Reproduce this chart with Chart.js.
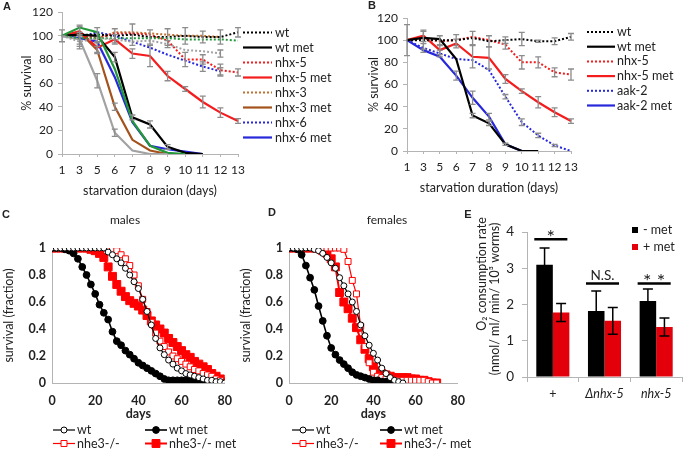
<!DOCTYPE html>
<html>
<head>
<meta charset="utf-8">
<script src="https://cdn.jsdelivr.net/npm/chart.js@4.4.1/dist/chart.umd.min.js"></script>
<style>
  html, body { margin: 0; padding: 0; background: #fff; }
  #wrap { position: relative; width: 683px; height: 450px; overflow: hidden; }
  canvas { position: absolute; }
</style>
</head>
<body>
<div id="wrap">
  <canvas id="chartA" style="left:0;top:0" width="340" height="200"></canvas>
  <canvas id="chartB" style="left:340px;top:0" width="343" height="200"></canvas>
  <canvas id="chartC" style="left:0;top:200px" width="242" height="250"></canvas>
  <canvas id="chartD" style="left:230px;top:200px" width="245" height="250"></canvas>
  <canvas id="chartE" style="left:460px;top:200px" width="223" height="250"></canvas>
</div>
<script>
// ---- panel A / B : starvation survival (%) ----
const starveDays = ['1', '3', '5', '6', '7', '8', '9', '10', '11', '12', '13'];

const aWt        = [100, 101, 101, 100, 101, 99, 99, 100, 99, 99, 103];
const aWtErr     = [5, 8, 6, 6, 9, 6, 7, 7, 5, 6, 4];
const aWtMet     = [100, 101, 100, 82, 31, 25, 6, 1, 0, null, null];
const aWtMetErr  = [null, null, null, 4, 2, 3, 2, null, null, null, null];
const aNhx5      = [100, 101, 98, 102, 102, 101, 96, 80, 80, 71, 69];
const aNhx5Err   = [null, null, null, null, null, null, null, 6, 4, 5, 3];
const aNhx5Met   = [100, 104, 90, 97, 85, 83, 66, 55, 44, 35, 28];
const aNhx5MetErr = [null, 4, 4, 4, 4, 9, 4, 2, 5, 4, 2];
const aNhx3      = [100, 100, 97, 103, 103, 102, 101, 100, 100, 99, null];
const aNhx3Met   = [100, 103, 88, 40, 12, 3, 0, null, null, null, null];
const aNhx3MetErr = [null, null, 3, 3, null, null, null, null, null, null, null];
const aNhx6      = [100, 99, 103, 100, 95, 90, 84, 79, 74, 70, null];
const aNhx6Err   = [null, null, null, null, null, null, null, null, 4, 3, null];
const aNhx6Met   = [100, 98, 95, 65, 27, 7, 4, 2, 0, null, null];
const aGrayDot   = [100, 95, 98, 97, 95, 96, 93, 88, 87, 85, null];
const aGrayDotErr = [null, 6, null, null, null, null, 3, null, null, 3, null];
const aGrayMet   = [100, 97, 62, 18, 3, 0, 0, null, null, null, null];
const aGrayMetErr = [null, 6, 6, 3, null, null, null, null, null, null, null];
const aGreenDot  = [100, 98, 98, 98, 98, 98, 98, 97, 97, 97, 96];
const aGreenMet  = [100, 107, 103, 72, 28, 7, 1, 0, null, null, null];

const bWt        = [100, 100, 100, 100, 102, 99, 100, 101, 99, 99, 103];
const bWtErr     = [14, 8, 4, 5, 6, 5, 3, 6, 1, 3, 3];
const bWtMet     = [100, 102, 101, 83, 32, 25, 6, 0, 0, null, null];
const bWtMetErr  = [null, null, null, null, 2, 2, null, null, null, null, null];
const bNhx5      = [100, 101, 99, 100, 103, 100, 96, 80, 80, 71, 69];
const bNhx5Err   = [null, null, null, null, null, null, 4, 6, 5, 4, 5];
const bNhx5Met   = [100, 104, 91, 97, 85, 84, 65, 54, 44, 35, 27];
const bNhx5MetErr = [null, 5, 4, 4, 10, 10, 4, 2, 5, 4, 2];
const bAak2      = [100, 93, 88, 83, 82, 73, 49, 26, 14, 5, 0];
const bAak2Err   = [null, 4, 3, null, null, null, 2, 3, 2, 1, null];
const bAak2Met   = [100, 91, 85, 68, 48, 31, 6, 0, null, null, null];
const bAak2MetErr = [null, null, null, 4, 6, 3, 1, null, null, null, null];

// ---- panel C / D : lifespan (fraction surviving) ----
const cDays = [0, 2, 4, 6, 8, 10, 12, 14, 16, 18, 20, 22, 24, 26, 28, 30, 32, 34, 36, 38, 40,
               42, 44, 46, 48, 50, 52, 54, 56, 58, 60, 62, 64, 66, 68, 70, 72, 74, 76, 78, 80];
const cWt      = [1, 1, 1, 1, 1, 1, 1, 1, 1, 1, 1, 1, 1, 0.97, 0.95, 0.92, 0.89, 0.85, 0.8, 0.75, 0.7,
                  0.62, 0.53, 0.43, 0.33, 0.26, 0.21, 0.17, 0.14, 0.11, 0.09, 0.07, 0.06, 0.05, 0.04, 0.03, 0.02, 0.02, 0.01, 0.01, 0];
const cWtMet   = [1, 1, 1, 0.99, 0.98, 0.96, 0.92, 0.86, 0.8, 0.73, 0.66, 0.58, 0.52, 0.47, 0.38, 0.31, 0.28, 0.24, 0.21, 0.18, 0.15,
                  0.13, 0.11, 0.09, 0.07, 0.05, 0.03, 0.02, 0.02, 0.02, 0.02, 0.02, 0.02, 0.02, 0.02, 0.02, 0.01, 0.01, 0, null, null];
const cNhe3    = [1, 1, 1, 1, 1, 1, 1, 1, 1, 1, 1, 1, 1, 1, 0.99, 0.98, 0.95, 0.92, 0.87, 0.8, 0.72,
                  0.62, 0.53, 0.45, 0.37, 0.31, 0.27, 0.23, 0.2, 0.18, 0.16, 0.14, 0.12, 0.1, 0.09, 0.07, 0.06, 0.05, 0.03, 0.02, 0];
const cNhe3Met = [1, 1, 1, 1, 1, 1, 1, 1, 1, 0.99, 0.98, 0.96, 0.93, 0.86, 0.79, 0.73, 0.68, 0.64, 0.61, 0.59, 0.57,
                  0.54, 0.5, 0.46, 0.43, 0.4, 0.37, 0.33, 0.3, 0.27, 0.24, 0.21, 0.19, 0.16, 0.14, 0.12, 0.1, 0.07, 0.05, 0.03, 0.01];

const dDays = [0, 2, 4, 6, 8, 10, 12, 14, 16, 18, 20, 22, 24, 26, 28, 30, 32, 34, 36, 38, 40,
               42, 44, 46, 48, 50, 52, 54, 56, 58, 60, 62, 64, 66, 68, 70];
const dWt      = [1, 1, 1, 1, 1, 1, 0.99, 0.98, 0.96, 0.93, 0.89, 0.85, 0.78, 0.72, 0.66, 0.6, 0.53, 0.43, 0.35, 0.28, 0.22,
                  0.17, 0.11, 0.07, 0.04, 0.02, 0.01, 0, null, null, null, null, null, null, null, null];
const dWtMet   = [1, 1, 0.99, 0.95, 0.87, 0.78, 0.69, 0.57, 0.46, 0.35, 0.26, 0.21, 0.17, 0.14, 0.11, 0.08, 0.06, 0.05, 0.04, 0.03, 0.02,
                  0.02, 0.01, 0.01, 0.01, 0, null, null, null, null, null, null, null, null, null, null];
const dNhe3    = [1, 1, 1, 1, 1, 1, 1, 1, 1, 1, 1, 1, 1, 0.99, 0.9, 0.76, 0.66, 0.42, 0.27, 0.15, 0.08,
                  0.05, 0.04, 0.03, 0.02, 0.02, 0.02, 0.02, 0.02, 0.02, 0.02, 0.02, 0.02, 0.01, 0, 0];
const dNhe3Met = [1, 1, 1, 1, 1, 1, 1, 1, 0.98, 0.96, 0.92, 0.86, 0.67, 0.6, 0.55, 0.48, 0.41, 0.32, 0.25, 0.18, 0.12,
                  0.09, 0.07, 0.06, 0.05, 0.04, 0.04, 0.04, 0.04, 0.03, 0.03, 0.02, 0.02, 0.01, 0, 0];

// ---- panel E : O2 consumption ----
const eCats      = ['+', 'Δnhx-5', 'nhx-5'];
const eMinusMet  = [3.1, 1.82, 2.1];
const eMinusErr  = [0.46, 0.55, 0.33];
const ePlusMet   = [1.78, 1.55, 1.38];
const ePlusErr   = [0.25, 0.37, 0.25];
const eSigLevel  = [3.8, 2.58, 2.58];
const eSigText   = ['*', 'N.S.', '* *'];

const FONT = 'Lato, "Open Sans", sans-serif';
Chart.defaults.font.family = FONT;
Chart.defaults.color = '#222';
Chart.defaults.animation = false;

const BLACK = '#000000', RED = '#f41c1c', BROWN = '#a3521c', BROWN2 = '#c0712f',
      BLUE = '#2727dc', GREEN = '#23983a', GRAY = '#a2a2a2', AXIS = '#b4b4b4';

function drawMarker(ctx, ds, x, y) {
  const r = ds.pointRadius;
  ctx.beginPath();
  if (ds.pointStyle === 'rect') {
    const s = r * Math.SQRT1_2;
    ctx.rect(x - s, y - s, 2 * s, 2 * s);
  } else {
    ctx.arc(x, y, r, 0, Math.PI * 2);
  }
  ctx.fillStyle = ds.pointBackgroundColor;
  ctx.fill();
  ctx.lineWidth = ds.pointBorderWidth;
  ctx.strokeStyle = ds.pointBorderColor;
  ctx.stroke();
}

// error bars, significance bars, free texts and a hand placed legend
const extras = {
  id: 'extras',
  afterDatasetsDraw(chart, args, opts) {
    const ctx = chart.ctx, ys = chart.scales.y;
    chart.data.datasets.forEach((ds, di) => {
      if (!ds.errors) return;
      const meta = chart.getDatasetMeta(di);
      ctx.save();
      ctx.strokeStyle = opts.errColor || '#888';
      ctx.lineWidth = opts.errWidth || 1.3;
      const c = opts.cap || 3;
      ds.errors.forEach((e, i) => {
        const v = ds.data[i];
        if (e == null || v == null) return;
        const x = meta.data[i].x;
        const y1 = ys.getPixelForValue(v - e), y2 = ys.getPixelForValue(v + e);
        ctx.beginPath();
        ctx.moveTo(x, y1); ctx.lineTo(x, y2);
        ctx.moveTo(x - c, y1); ctx.lineTo(x + c, y1);
        ctx.moveTo(x - c, y2); ctx.lineTo(x + c, y2);
        ctx.stroke();
      });
      ctx.restore();
    });
    if (opts.sig) {
      const first = chart.getDatasetMeta(0).data, last = chart.getDatasetMeta(chart.data.datasets.length - 1).data;
      ctx.save();
      opts.sig.levels.forEach((lv, i) => {
        const x1 = first[i].x - first[i].width / 2, x2 = last[i].x + last[i].width / 2;
        const y = ys.getPixelForValue(lv);
        ctx.strokeStyle = '#000'; ctx.lineWidth = 2.5;
        ctx.beginPath(); ctx.moveTo(x1 - 2, y); ctx.lineTo(x2 - 2, y); ctx.stroke();
        const star = opts.sig.labels[i].indexOf('*') >= 0;
        ctx.fillStyle = '#222';
        ctx.font = star ? opts.sig.starFont : opts.sig.font;
        ctx.textAlign = 'center'; ctx.textBaseline = 'alphabetic';
        ctx.fillText(opts.sig.labels[i], (x1 + x2) / 2 - 2, y + (star ? 5 : -3));
      });
      ctx.restore();
    }
  },
  afterDraw(chart, args, opts) {
    const ctx = chart.ctx;
    (opts.texts || []).forEach(t => {
      ctx.save();
      ctx.translate(t.x, t.y);
      if (t.rotate) ctx.rotate(t.rotate);
      ctx.font = t.font;
      ctx.fillStyle = t.color || '#222';
      ctx.textAlign = t.align || 'center';
      ctx.textBaseline = 'middle';
      ctx.fillText(t.text, 0, 0);
      ctx.restore();
    });
    const lg = opts.legend;
    if (!lg) return;
    let k = 0;
    chart.data.datasets.forEach(ds => {
      if (!ds.label) return;
      const cols = lg.cols || 1;
      const x = lg.x + (k % cols) * (lg.dx || 0), y = lg.y + Math.floor(k / cols) * lg.dy;
      k++;
      ctx.save();
      let w;
      if (lg.box) {
        w = lg.box;
        ctx.fillStyle = ds.backgroundColor;
        ctx.fillRect(x, y - lg.box / 2, lg.box, lg.box);
      } else {
        w = lg.line;
        ctx.strokeStyle = ds.borderColor;
        ctx.lineWidth = ds.borderWidth;
        ctx.setLineDash(ds.borderDash || []);
        ctx.beginPath(); ctx.moveTo(x, y); ctx.lineTo(x + lg.line, y); ctx.stroke();
        ctx.setLineDash([]);
        if (ds.pointRadius) drawMarker(ctx, ds, x + lg.line / 2, y);
      }
      ctx.fillStyle = '#222';
      ctx.font = lg.font;
      ctx.textAlign = 'left';
      ctx.textBaseline = 'middle';
      ctx.fillText(ds.label, x + w + lg.gap, y);
      ctx.restore();
    });
  }
};

function starveLine(label, data, color, dotted, errors) {
  return {
    label, data, errors,
    borderColor: color, backgroundColor: color,
    borderWidth: dotted ? 2 : 2.2,
    borderDash: dotted ? [2, 2] : [],
    pointRadius: 0, pointHoverRadius: 0, tension: 0
  };
}

function starveScales(xTitle, yWidth, xHeight) {
  return {
    x: {
      grid: { drawOnChartArea: false, tickLength: 3, color: AXIS },
      border: { color: AXIS },
      ticks: { autoSkip: false, maxRotation: 0, padding: 6, font: { size: 12 } },
      title: { display: true, text: xTitle, font: { size: 12.5 }, padding: { top: 0, bottom: 2 } },
      afterFit: s => { s.height = xHeight; }
    },
    y: {
      min: 0, max: 120,
      grid: { drawOnChartArea: false, tickLength: 4, color: AXIS },
      border: { color: AXIS },
      ticks: { stepSize: 20, padding: 5, font: { size: 12 } },
      title: { display: true, text: '% survival', font: { size: 12.5 }, padding: { top: 0, bottom: 0 } },
      afterFit: s => { s.width = yWidth; }
    }
  };
}

new Chart(document.getElementById('chartA'), {
  type: 'line',
  data: {
    labels: starveDays,
    datasets: [
      starveLine('', aGrayDot, GRAY, true, aGrayDotErr),
      starveLine('', aGreenDot, GREEN, true),
      starveLine('', aGrayMet, GRAY, false, aGrayMetErr),
      starveLine('', aGreenMet, GREEN, false),
      starveLine('wt', aWt, BLACK, true, aWtErr),
      starveLine('wt met', aWtMet, BLACK, false, aWtMetErr),
      starveLine('nhx-5', aNhx5, RED, true, aNhx5Err),
      starveLine('nhx-5 met', aNhx5Met, RED, false, aNhx5MetErr),
      starveLine('nhx-3', aNhx3, BROWN2, true),
      starveLine('nhx-3 met', aNhx3Met, BROWN, false, aNhx3MetErr),
      starveLine('nhx-6', aNhx6, BLUE, true, aNhx6Err),
      starveLine('nhx-6 met', aNhx6Met, BLUE, false)
    ]
  },
  options: {
    responsive: false,
    layout: { padding: { left: 19, right: 102, top: 12, bottom: 0 } },
    scales: starveScales('starvation duraion (days)', 43, 46),
    plugins: {
      legend: { display: false }, tooltip: { enabled: false },
      extras: {
        errColor: '#8c8c8c',
        texts: [{ text: 'A', x: 7, y: 7, font: 'bold 11px "Liberation Sans", Arial, sans-serif' }],
        legend: { x: 243, y: 32.5, dy: 15, line: 29, gap: 3, font: '12.5px ' + FONT }
      }
    }
  },
  plugins: [extras]
});

new Chart(document.getElementById('chartB'), {
  type: 'line',
  data: {
    labels: starveDays,
    datasets: [
      starveLine('wt', bWt, BLACK, true, bWtErr),
      starveLine('wt met', bWtMet, BLACK, false, bWtMetErr),
      starveLine('nhx-5', bNhx5, RED, true, bNhx5Err),
      starveLine('nhx-5 met', bNhx5Met, RED, false, bNhx5MetErr),
      starveLine('aak-2', bAak2, BLUE, true, bAak2Err),
      starveLine('aak-2 met', bAak2Met, BLUE, false, bAak2MetErr)
    ]
  },
  options: {
    responsive: false,
    layout: { padding: { left: 26, right: 112, top: 18, bottom: 3 } },
    scales: starveScales('starvation duration (days)', 41, 46),
    plugins: {
      legend: { display: false }, tooltip: { enabled: false },
      extras: {
        errColor: '#8c8c8c',
        texts: [{ text: 'B', x: 32, y: 6, font: 'bold 11px "Liberation Sans", Arial, sans-serif' }],
        legend: { x: 247, y: 32, dy: 14.7, line: 28, gap: 2, font: '12.5px ' + FONT }
      }
    }
  },
  plugins: [extras]
});

function lifeLine(label, days, vals, kind) {
  const pts = [];
  vals.forEach((v, i) => { if (v != null) pts.push({ x: days[i], y: v }); });
  const filled = kind === 'wtMet' || kind === 'nheMet';
  const color = (kind === 'nhe' || kind === 'nheMet') ? '#ff0000' : '#000000';
  const sq = kind === 'nhe' || kind === 'nheMet';
  return {
    label, data: pts,
    borderColor: color, backgroundColor: color,
    borderWidth: kind === 'nheMet' ? 2 : (kind === 'wtMet' ? 1.6 : 1.2),
    pointStyle: sq ? 'rect' : 'circle',
    pointRadius: kind === 'nheMet' ? 5.6 : (kind === 'nhe' ? 4.2 : (kind === 'wtMet' ? 3.4 : 3)),
    pointBackgroundColor: filled ? color : '#ffffff',
    pointBorderColor: color,
    pointBorderWidth: 1,
    pointHoverRadius: 0, tension: 0
  };
}

function lifeScales(yWidth) {
  return {
    x: {
      type: 'linear', min: 0, max: 80,
      grid: { drawOnChartArea: false, drawTicks: false },
      border: { color: AXIS },
      ticks: { stepSize: 20, padding: 10, font: { size: 12.5, weight: 'bold' } },
      title: { display: true, text: 'days', font: { size: 12.5, weight: 'bold' }, padding: { top: 0, bottom: 1 } },
      afterFit: s => { s.height = 39; }
    },
    y: {
      min: 0, max: 1,
      grid: { drawOnChartArea: false, drawTicks: false },
      border: { color: AXIS },
      ticks: {
        stepSize: 0.2, padding: 6, font: { size: 12.5, weight: 'bold' },
        callback: v => String(Number(v.toFixed(1)))
      },
      title: { display: true, text: 'survival (fraction)', font: { size: 12.5 }, padding: { top: 0, bottom: 0 } },
      afterFit: s => { s.width = yWidth; }
    }
  };
}

new Chart(document.getElementById('chartC'), {
  type: 'line',
  data: {
    datasets: [
      lifeLine('wt', cDays, cWt, 'wt'),
      lifeLine('wt met', cDays, cWtMet, 'wtMet'),
      lifeLine('nhe3-/-', cDays, cNhe3, 'nhe'),
      lifeLine('nhe3-/- met', cDays, cNhe3Met, 'nheMet')
    ]
  },
  options: {
    responsive: false,
    layout: { padding: { left: 1, right: 15, top: 48, bottom: 28 } },
    scales: lifeScales(51),
    plugins: {
      legend: { display: false }, tooltip: { enabled: false },
      extras: {
        texts: [
          { text: 'C', x: 6, y: 15, font: 'bold 11px "Liberation Sans", Arial, sans-serif' },
          { text: 'males', x: 125, y: 20, font: '12px ' + FONT }
        ],
        legend: { x: 53, y: 230, cols: 2, dx: 92, dy: 13.5, line: 22, gap: 2, font: '12.5px ' + FONT }
      }
    }
  },
  plugins: [extras]
});

new Chart(document.getElementById('chartD'), {
  type: 'line',
  data: {
    datasets: [
      lifeLine('wt', dDays, dWt, 'wt'),
      lifeLine('wt met', dDays, dWtMet, 'wtMet'),
      lifeLine('nhe3-/-', dDays, dNhe3, 'nhe'),
      lifeLine('nhe3-/- met', dDays, dNhe3Met, 'nheMet')
    ]
  },
  options: {
    responsive: false,
    layout: { padding: { left: 8, right: 11, top: 48, bottom: 28 } },
    scales: lifeScales(51),
    plugins: {
      legend: { display: false }, tooltip: { enabled: false },
      extras: {
        texts: [
          { text: 'D', x: 42, y: 13, font: 'bold 11px "Liberation Sans", Arial, sans-serif' },
          { text: 'females', x: 157, y: 20, font: '12px ' + FONT }
        ],
        legend: { x: 62, y: 230, cols: 2, dx: 88, dy: 13.5, line: 22, gap: 2, font: '12.5px ' + FONT }
      }
    }
  },
  plugins: [extras]
});

new Chart(document.getElementById('chartE'), {
  type: 'bar',
  data: {
    labels: eCats,
    datasets: [
      { label: '- met', data: eMinusMet, errors: eMinusErr, backgroundColor: '#000000' },
      { label: '+ met', data: ePlusMet, errors: ePlusErr, backgroundColor: '#e3000b' }
    ]
  },
  options: {
    responsive: false,
    categoryPercentage: 0.64, barPercentage: 1,
    layout: { padding: { left: 25, right: 1, top: 32, bottom: 0 } },
    scales: {
      x: {
        grid: { drawOnChartArea: false, tickLength: 5, color: AXIS },
        border: { color: AXIS },
        ticks: {
          padding: 4,
          font: c => ({ size: 12.5, style: c.index > 0 ? 'italic' : 'normal' })
        },
        afterFit: s => { s.height = 73; }
      },
      y: {
        min: 0, max: 4,
        grid: { drawOnChartArea: false, tickLength: 5, color: AXIS },
        border: { color: AXIS },
        ticks: { stepSize: 1, padding: 8, font: { size: 13.5 } },
        afterFit: s => { s.width = 42; }
      }
    },
    plugins: {
      legend: { display: false }, tooltip: { enabled: false },
      extras: {
        errColor: '#000', errWidth: 1.5, cap: 5,
        sig: { levels: eSigLevel, labels: eSigText, font: '13.5px ' + FONT, starFont: '20px ' + FONT },
        texts: [
          { text: 'E', x: 8, y: 15, font: 'bold 11px "Liberation Sans", Arial, sans-serif' },
          { text: 'O\u2082 consumption rate', x: 22, y: 74, rotate: -Math.PI / 2, font: '12.5px ' + FONT },
          { text: '(nmol/ ml/ min/ 10\u00b3 worms)', x: 35, y: 99, rotate: -Math.PI / 2, font: '12.5px ' + FONT }
        ],
        legend: { x: 172, y: 30, dy: 17, box: 6, gap: 5, font: '12.5px ' + FONT }
      }
    }
  },
  plugins: [extras]
});
</script>
</body>
</html>
